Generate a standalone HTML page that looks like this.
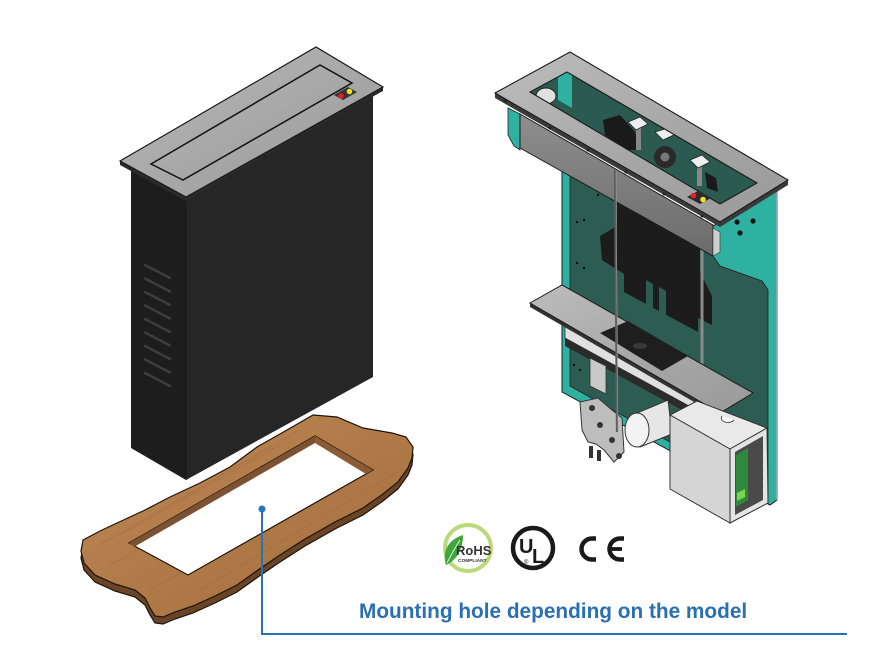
<!DOCTYPE html>
<html><head><meta charset="utf-8"><style>
html,body{margin:0;padding:0;background:#fff;}
svg{display:block;}
</style></head><body>
<svg width="890" height="648" viewBox="0 0 890 648" xmlns="http://www.w3.org/2000/svg">
<defs>
<linearGradient id="steel" x1="0" y1="0" x2="1" y2="1">
<stop offset="0" stop-color="#bdbdbd"/><stop offset="0.5" stop-color="#a8a8a8"/><stop offset="1" stop-color="#9a9a9a"/>
</linearGradient>
<linearGradient id="bar" x1="0" y1="0" x2="0" y2="1">
<stop offset="0" stop-color="#8e8e8e"/><stop offset="1" stop-color="#6c6c6c"/>
</linearGradient>
<linearGradient id="wood" x1="0" y1="0" x2="1" y2="1">
<stop offset="0" stop-color="#c18b58"/><stop offset="0.5" stop-color="#b07a48"/><stop offset="1" stop-color="#a66f3e"/>
</linearGradient>
</defs>

<!-- LEFT BOX -->
<polygon points="131,166 186,198 186,480 131,448" fill="#1d1d1d"/>
<polygon points="186,198 373,92 373,377 186,480" fill="#262626"/>
<line x1="186" y1="198" x2="186" y2="480" stroke="#151515" stroke-width="1"/>
<g stroke="#3d3d3d" stroke-width="2.4" stroke-linecap="round">
<line x1="145" y1="265" x2="170" y2="278"/>
<line x1="145" y1="278.5" x2="170" y2="291.5"/>
<line x1="145" y1="292" x2="170" y2="305"/>
<line x1="145" y1="305.5" x2="170" y2="318.5"/>
<line x1="145" y1="319" x2="170" y2="332"/>
<line x1="145" y1="332.5" x2="170" y2="345.5"/>
<line x1="145" y1="346" x2="170" y2="359"/>
<line x1="145" y1="359.5" x2="170" y2="372.5"/>
<line x1="145" y1="373" x2="170" y2="386"/>
</g>
<polygon points="120,161 316,47 383,87 383,91 186,201 120,165" fill="#2a2a2a"/>
<polygon points="120,161 316,47 383,87 186,197" fill="url(#steel)" stroke="#1a1a1a" stroke-width="1.2"/>
<polygon points="151,164 320,65 352,83 183,180" fill="none" stroke="#111" stroke-width="1.5"/>
<g fill="#222">
<circle cx="196" cy="196" r="1.5"/><circle cx="231" cy="176" r="1.5"/><circle cx="265" cy="156" r="1.5"/><circle cx="300" cy="136" r="1.5"/><circle cx="334" cy="116" r="1.5"/><circle cx="365" cy="98" r="1.5"/>
</g>
<polygon points="334,95 348,87 357,92 343,100" fill="#333"/>
<circle cx="341" cy="96" r="2.8" fill="#e8202a"/>
<circle cx="349.5" cy="91.5" r="2.8" fill="#f0e020"/>

<!-- WOOD BOARD -->
<g transform="translate(0,7)">
<polygon points="83,540 100,531 117,523 145,510 170,497 200,483 230,467 257,447 287,430 313,415 337,417 363,428 392,433 406,437 413,447 412,458 408,468 398,482 383,494 363,508 335,522 305,539 280,555 258,570 237,585 215,596 193,606 175,612 163,617 155,616 150,608 145,598 135,590 115,584 95,575 84,563 81,551" fill="#6a4427" stroke="#1e1408" stroke-width="1.2"/>
</g>
<polygon points="83,540 100,531 117,523 145,510 170,497 200,483 230,467 257,447 287,430 313,415 337,417 363,428 392,433 406,437 413,447 412,458 408,468 398,482 383,494 363,508 335,522 305,539 280,555 258,570 237,585 215,596 193,606 175,612 163,617 155,616 150,608 145,598 135,590 115,584 95,575 84,563 81,551" fill="url(#wood)" stroke="#1e1408" stroke-width="1.2"/>
<g stroke="#9a6538" stroke-width="0.8" opacity="0.5" fill="none">
<path d="M100,545 L300,430"/><path d="M110,565 L330,445"/><path d="M150,590 L390,455"/><path d="M200,590 L400,470"/><path d="M120,535 L280,445"/>
</g>
<polygon points="129,543 315,436 373,470 188,575" fill="#fff" stroke="#1e1408" stroke-width="1.2"/>
<polygon points="129,543 315,436 315,443 134,547" fill="#7d5232"/>
<polygon points="315,436 373,470 366,474 315,443" fill="#8b5b36"/>

<!-- RIGHT DEVICE -->
<polygon points="562,140 713,226 770,192 777,192 777,500 770,505 562,392" fill="#2fb1a1" stroke="#1e1e1e" stroke-width="1"/>
<polygon points="570,145 713,232 713,256 720,266 762,281 768,290 768,497 570,386" fill="#2d5c52" stroke="#1e1e1e" stroke-width="0.8"/>
<line x1="777" y1="192" x2="777" y2="500" stroke="#a0a0a0" stroke-width="1.5"/>
<g fill="#111">
<circle cx="737" cy="222" r="2.6"/><circle cx="753" cy="221" r="2.6"/><circle cx="740" cy="233" r="2.6"/>
<circle cx="577" cy="222" r="1.2"/><circle cx="584" cy="220" r="1.2"/><circle cx="577" cy="263" r="1.2"/><circle cx="584" cy="268" r="1.2"/><circle cx="598" cy="195" r="1.2"/>
<circle cx="574" cy="365" r="1.2"/><circle cx="580" cy="370" r="1.2"/>
</g>
<polygon points="617,200 700,246 700,272 712,296 712,325 698,318 698,332 624,292 624,274 602,260 600,236 617,226" fill="#1c1c1c"/>
<polygon points="646,280 653,284 653,325 646,321" fill="#2d5c52"/>
<polygon points="659,287 666,291 666,330 659,326" fill="#2d5c52"/>
<line x1="702" y1="250" x2="702" y2="400" stroke="#8a8a8a" stroke-width="3"/>

<polygon points="565,322 700,398 700,412 565,338" fill="#e0e0e0" stroke="#333" stroke-width="0.8"/>
<polygon points="565,338 700,412 700,420 565,346" fill="#2b2b2b"/>
<polygon points="590,358 606,366 606,394 590,386" fill="#c9c9c9" stroke="#333" stroke-width="0.8"/>

<polygon points="530,303 720,413 720,417 530,307" fill="#333"/>
<polygon points="530,303 562,285 753,393 720,413" fill="url(#steel)" stroke="#1a1a1a" stroke-width="1"/>
<polygon points="600,333 628,321 688,356 662,371" fill="#1e1e1e"/>
<ellipse cx="640" cy="346" rx="7" ry="3" fill="#3a3a3a"/>

<polygon points="637,413 668,400 672,434 640,447" fill="#e6e6e6" stroke="#333" stroke-width="1"/>
<ellipse cx="637" cy="430" rx="12" ry="17" fill="#f3f3f3" stroke="#333" stroke-width="1"/>

<polygon points="580,402 598,398 612,410 622,418 624,452 614,462 604,450 596,444 588,442 582,430" fill="#bdbdbd" stroke="#333" stroke-width="1"/>
<g fill="#333">
<circle cx="592" cy="408" r="3"/><circle cx="600" cy="425" r="3"/><circle cx="612" cy="440" r="3"/><circle cx="619" cy="456" r="3"/>
<rect x="589" y="446" width="4" height="12"/><rect x="597" y="450" width="4" height="11"/>
</g>

<polygon points="670,415 697,401 767,428 730,449" fill="#e9e9e9" stroke="#333" stroke-width="1"/>
<path d="M722,416 a6,4 0 0 0 12,4" fill="#fff" stroke="#333" stroke-width="0.8"/>
<polygon points="670,415 730,449 730,523 670,489" fill="#d5d5d5" stroke="#333" stroke-width="1"/>
<polygon points="730,449 767,428 768,503 730,523" fill="#e4e4e4" stroke="#333" stroke-width="1"/>
<polygon points="735,452 763,436 763,500 735,515" fill="#4a4a4a"/>
<polygon points="736,455 748,448 748,500 736,507" fill="#2f8a3b"/>
<polygon points="737,493 745,489 745,497 737,501" fill="#7bd64a"/>

<polygon points="508,108 520,114 520,150 514,146 508,135" fill="#2fb1a1" stroke="#222" stroke-width="0.8"/>
<polygon points="520,114 713,225 713,256 520,148" fill="url(#bar)" stroke="#1a1a1a" stroke-width="1"/>
<polygon points="713,228 720,232 720,252 713,256" fill="#cfcfcf" stroke="#333" stroke-width="0.6"/>

<polygon points="530,92 567,72 757,183 720,204" fill="#2b5a50"/>
<polygon points="558,77 567,72 572,75 572,108 558,100" fill="#2fb1a1"/>
<ellipse cx="546" cy="96" rx="10" ry="8" fill="#e0e0e0" stroke="#222" stroke-width="1"/>
<polygon points="603,120 620,115 635,132 640,150 625,150 605,135" fill="#1a1a1a"/>
<rect x="636" y="128" width="5" height="22" fill="#888"/>
<polygon points="628,122 640,117 648,124 636,130" fill="#eee" stroke="#222" stroke-width="0.8"/>
<circle cx="665" cy="157" r="11" fill="#2a2a2a"/>
<circle cx="665" cy="157" r="4.5" fill="#777"/>
<polygon points="655,132 668,128 676,134 663,140" fill="#eee" stroke="#222" stroke-width="0.8"/>
<rect x="697" y="166" width="5" height="20" fill="#888"/>
<polygon points="690,160 702,155 710,162 698,168" fill="#eee" stroke="#222" stroke-width="0.8"/>
<polygon points="705,172 716,178 718,192 707,188" fill="#1a1a1a"/>

<polygon points="495,93 720,222 788,180 788,185 720,227 495,98" fill="#3a3a3a"/>
<path d="M495,93 L570,52 L788,180 L720,222 Z M530,92 L720,204 L757,183 L567,72 Z" fill="url(#steel)" fill-rule="evenodd" stroke="#1a1a1a" stroke-width="1.1"/>
<g fill="#222">
<circle cx="505" cy="101" r="1.5"/><circle cx="550" cy="128" r="1.5"/><circle cx="588" cy="150" r="1.5"/><circle cx="626" cy="172" r="1.5"/><circle cx="664" cy="194" r="1.5"/><circle cx="702" cy="216" r="1.5"/>
</g>
<polygon points="687,197 698,191 711,198 700,204" fill="#2a2a2a"/>
<circle cx="693.5" cy="195.5" r="2.8" fill="#e8202a"/>
<circle cx="703" cy="199.5" r="2.8" fill="#f0e020"/>

<line x1="615" y1="170" x2="617" y2="432" stroke="#5e5e5e" stroke-width="2.2"/>
<line x1="616" y1="170" x2="618" y2="432" stroke="#a0a0a0" stroke-width="0.6"/>

<!-- LOGOS -->
<circle cx="468" cy="548" r="23" fill="#fff" stroke="#bcd97a" stroke-width="4"/>
<path d="M446,565 C442,553 447,540 463,535 C463,549 457,560 446,565 Z" fill="#3ea63a"/>
<path d="M447,563 C451,555 455,548 460,540" fill="none" stroke="#fff" stroke-width="0.8"/>
<text x="456" y="555" font-family="Liberation Sans, sans-serif" font-weight="bold" font-size="13" fill="#333">RoHS</text>
<text x="458" y="562" font-family="Liberation Sans, sans-serif" font-weight="bold" font-size="4.8" fill="#333">COMPLIANT</text>

<circle cx="533" cy="548" r="20" fill="#fff" stroke="#1a1a1a" stroke-width="4.5"/>
<text x="519" y="553" font-family="Liberation Sans, sans-serif" font-weight="bold" font-size="20" fill="#1a1a1a">U</text>
<text x="532" y="563" font-family="Liberation Sans, sans-serif" font-weight="bold" font-size="20" fill="#1a1a1a">L</text>
<text x="524" y="564" font-family="Liberation Sans, sans-serif" font-size="6" fill="#1a1a1a">®</text>

<path d="M596,538.5 L592,538.5 A10.5,10.5 0 0 0 592,559.5 L596,559.5" fill="none" stroke="#1a1a1a" stroke-width="4.5"/>
<path d="M624,538.5 L620,538.5 A10.5,10.5 0 0 0 620,559.5 L624,559.5" fill="none" stroke="#1a1a1a" stroke-width="4.5"/>
<line x1="611" y1="549" x2="622" y2="549" stroke="#1a1a1a" stroke-width="3.8"/>

<!-- CALLOUT -->
<polyline points="262,509 262,634 847,634" fill="none" stroke="#2a72b8" stroke-width="2"/>
<circle cx="262" cy="509" r="3.5" fill="#2a72b8"/>
<text x="359" y="618" font-family="Liberation Sans, sans-serif" font-weight="bold" font-size="20.8" fill="#2a6fb3">Mounting hole depending on the model</text>
</svg>
</body></html>
